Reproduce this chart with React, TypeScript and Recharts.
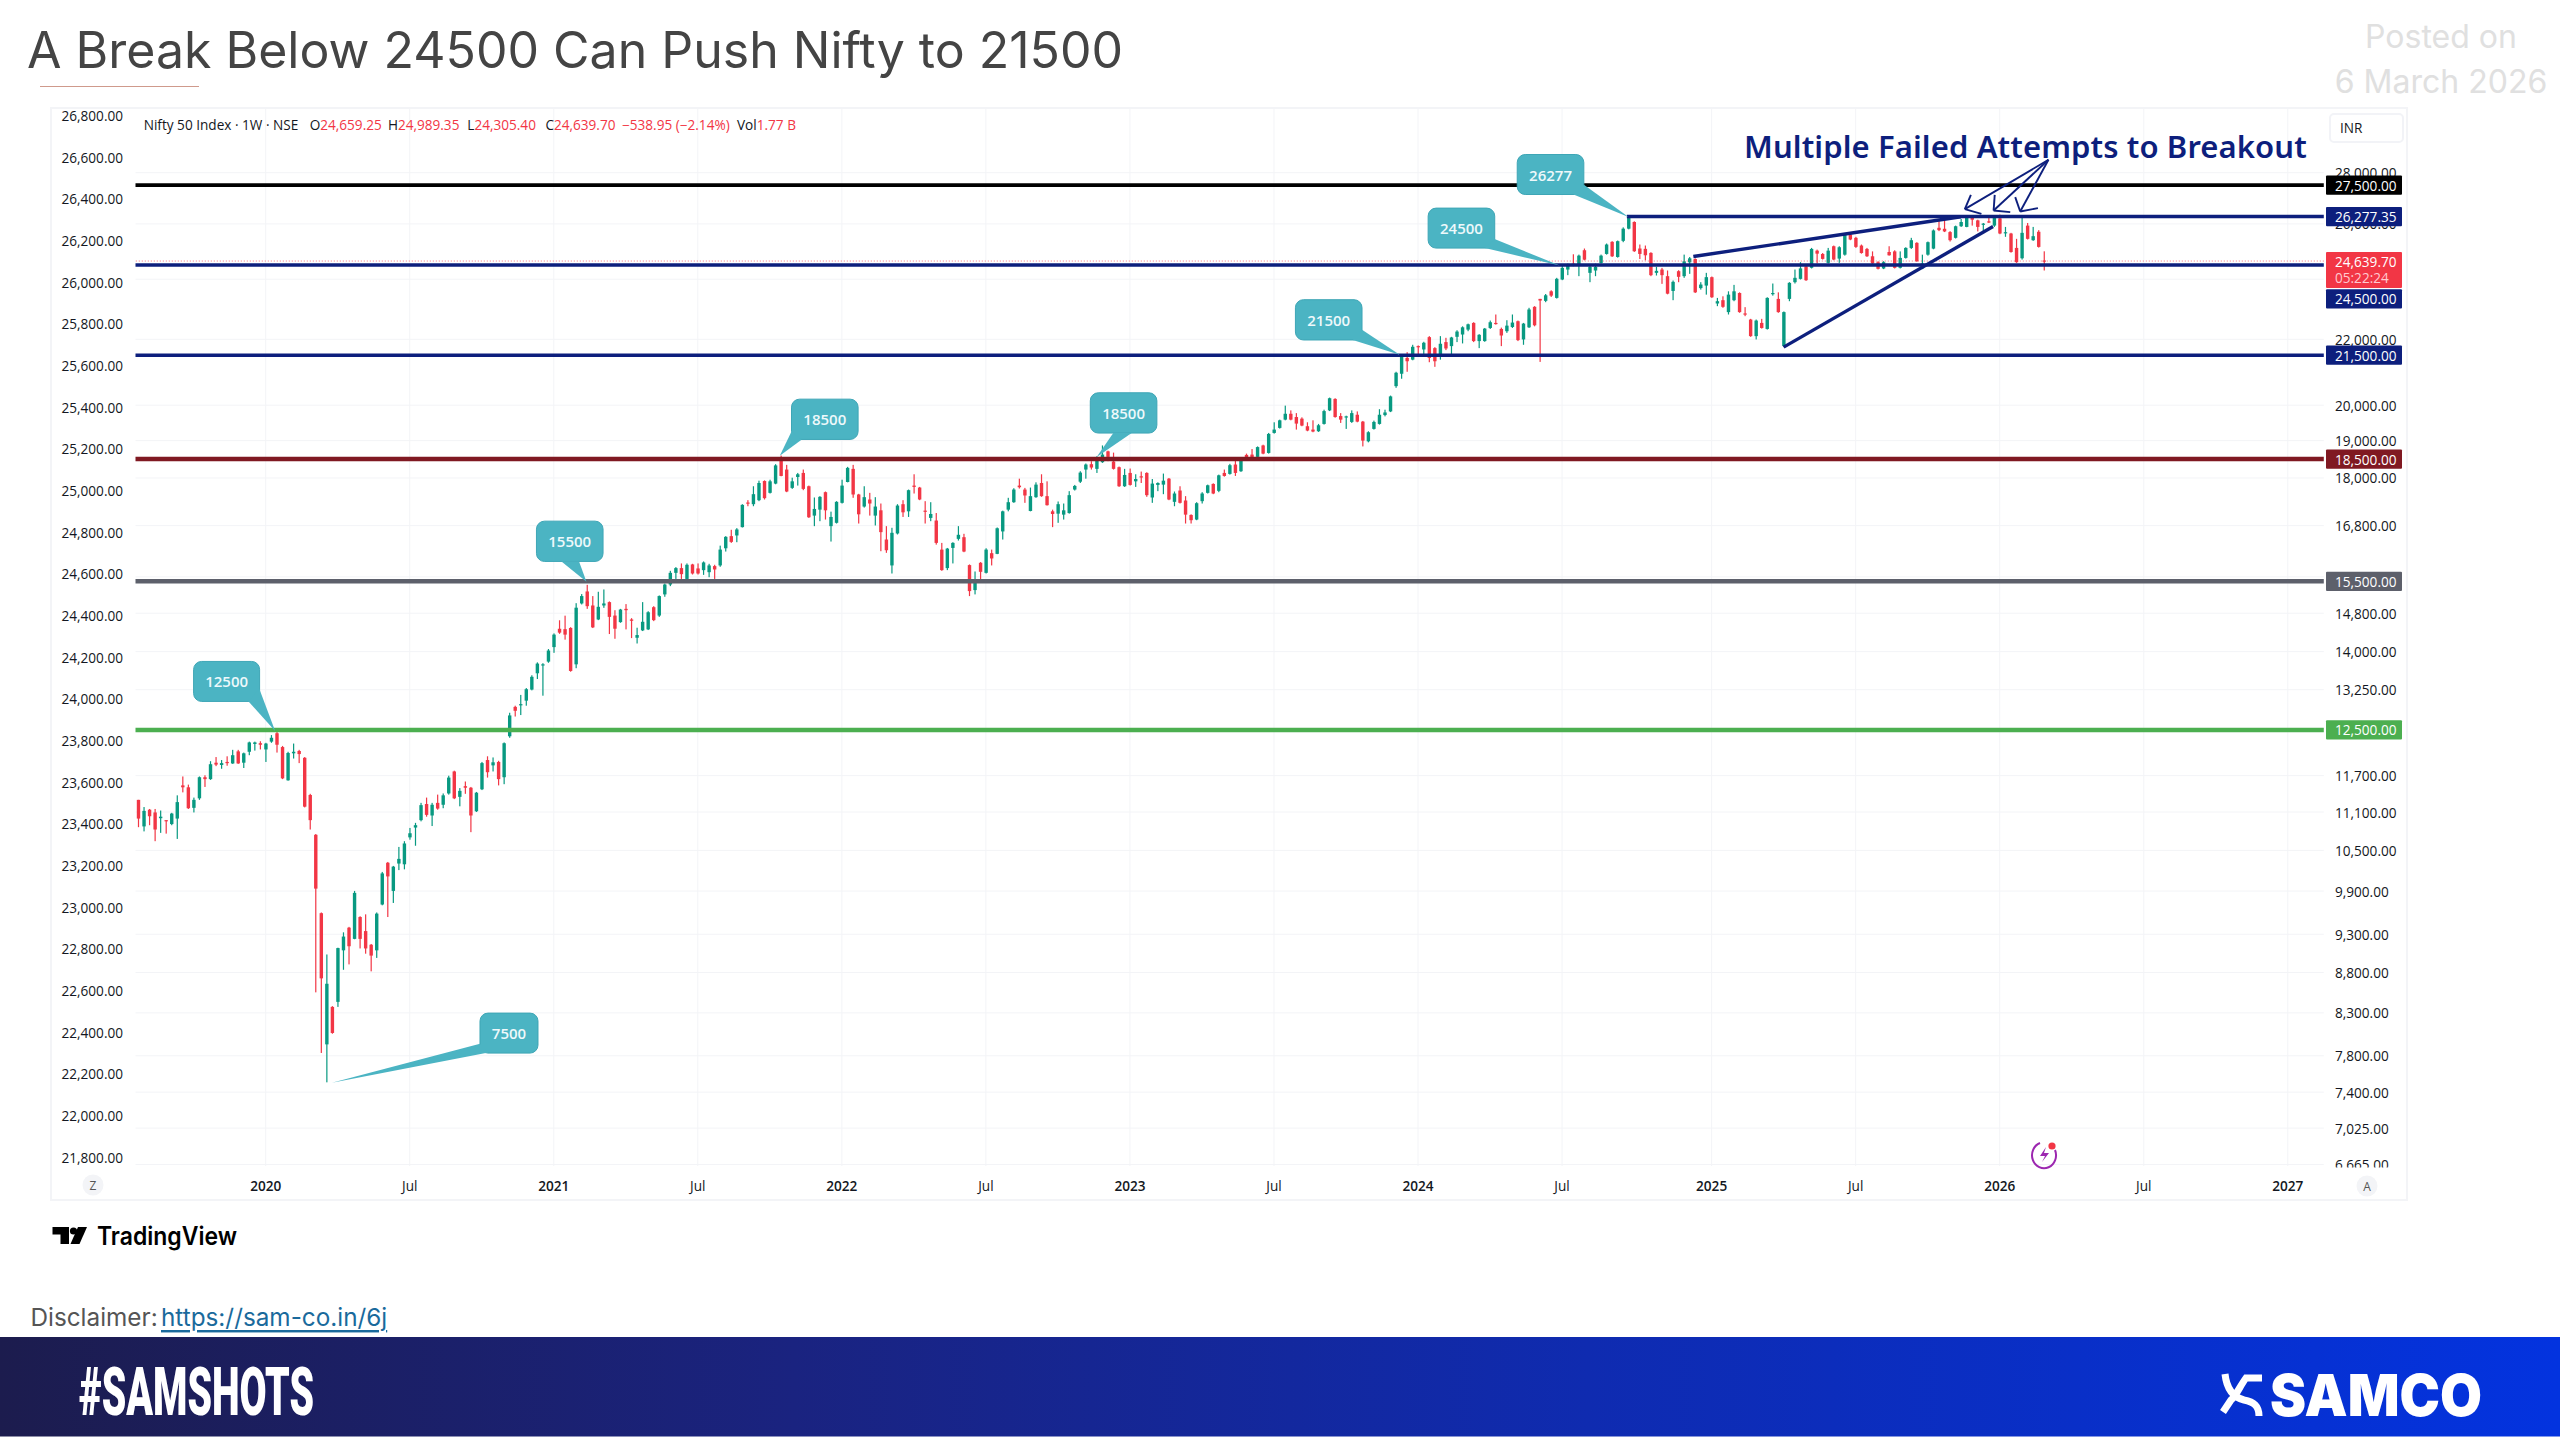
import React from "react";
import {
  Bar,
  CartesianGrid,
  ComposedChart,
  Line,
  ReferenceDot,
  ReferenceLine,
  XAxis,
  YAxis,
} from "recharts";

const OPENS = [
  11297, 10871, 11137, 11093, 11001, 10970, 10908, 10995, 11536, 11504,
  11167, 11322, 11673, 11641, 11921, 11882, 11934, 11908, 12118, 11921,
  12111, 12249, 12262, 12152, 12290, 12441, 12194, 11621, 12084, 12125,
  12006, 11377, 10740, 9588, 7930, 8372, 8433, 9086, 9389, 9238,
  9535, 9343, 9160, 9086, 9709, 10314, 9902, 10302, 10291, 10700,
  10853, 10970, 11229, 11044, 11248, 11217, 11402, 11771, 11346, 11523,
  11497, 11112, 11471, 11967, 11875, 11934, 11673, 12386, 12924, 12953,
  13041, 13252, 13568, 13730, 13799, 14092, 14471, 14463, 14488, 13745,
  15011, 15274, 14967, 14667, 14967, 15040, 14750, 14611, 14894, 14667,
  14284, 14437, 14458, 14930, 14750, 15209, 15428, 15691, 15799, 15553,
  15883, 15791, 15752, 15706, 15845, 15860, 16259, 16547, 16563, 16764,
  17372, 17330, 17431, 17921, 17617, 17854, 18487, 18221, 17744, 18026,
  18132, 17786, 17046, 17194, 17634, 16788, 16869, 17364, 17896, 18239,
  17575, 17271, 17448, 17046, 17177, 16466, 15860, 16611, 17330, 17152,
  17803, 17752, 17169, 16989, 16925, 16228, 15799, 16267, 16482, 16522,
  15868, 15304, 15921, 15691, 16144, 16128, 16660, 17194, 17380, 17803,
  17701, 17161, 17507, 17870, 17533, 17152, 17094, 17070, 17110, 17701,
  17904, 18221, 18363, 18239, 18416, 18708, 18434, 18283, 17786, 18132,
  17913, 18044, 18132, 17499, 17820, 17828, 17982, 17389, 17676, 17423,
  17062, 16949, 17406, 17617, 17845, 17668, 18132, 18106, 18354, 18177,
  18611, 18620, 18558, 18868, 18664, 19213, 19353, 19586, 19753, 19660,
  19614, 19400, 19306, 19260, 19465, 19850, 20182, 19688, 19651, 19521,
  19725, 19530, 18981, 19325, 19465, 19716, 19820, 20559, 20931, 21416,
  21363, 21785, 21680, 22070, 21722, 21468, 21912, 21785, 22080, 22154,
  22312, 22529, 21944, 21944, 22365, 22529, 22333, 22260, 22397, 22584,
  21996, 22386, 23060, 23326, 23259, 23583, 23359, 23990, 24338, 24548,
  24513, 25028, 24222, 24304, 24571, 24894, 25333, 24785, 25370, 25821,
  26072, 25090, 25078, 24931, 24222, 24338, 24106, 23595, 24280, 24106,
  24594, 24711, 23693, 23780, 24071, 23171, 23282, 22884, 23282, 23525,
  22840, 22639, 22102, 22529, 22333, 23492, 23326, 21785, 23326, 23897,
  24012, 24448, 24399, 25013, 24892, 24575, 25173, 24727, 24868, 25604,
  25481, 25198, 25075, 24810, 24599, 24376, 24964, 24986, 24399, 24751,
  25112, 25296, 24376, 24868, 25087, 25854, 25817, 25694, 25481, 25912,
  25887, 26223, 26133, 25973, 26096, 25936, 26210, 25653, 25641, 25112,
  24739, 25936, 25394, 25706, 24659,
];

const HIGHS = [
  11297, 11180, 11149, 11149, 11124, 10970, 11087, 11371, 11686, 11549,
  11334, 11686, 11706, 11947, 12019, 11967, 12032, 12145, 12145, 12097,
  12290, 12290, 12297, 12269, 12407, 12476, 12214, 12111, 12256, 12145,
  12019, 11396, 10752, 9598, 9032, 8381, 9121, 9326, 9400, 9902,
  9546, 9572, 9170, 9598, 10178, 10326, 10267, 10553, 10641, 10847,
  10927, 11248, 11334, 11248, 11383, 11402, 11699, 11784, 11491, 11601,
  11510, 11427, 11934, 12032, 12012, 11954, 12276, 12815, 12946, 13150,
  13281, 13529, 13784, 13768, 14053, 14374, 14650, 14748, 14504, 15017,
  15216, 15421, 15172, 15267, 15318, 15055, 14865, 14894, 14997, 14695,
  14493, 15040, 14843, 14952, 15186, 15450, 15737, 15822, 15906, 15906,
  15898, 15906, 15952, 15898, 15875, 16321, 16547, 16700, 16740, 17330,
  17431, 17786, 17930, 17938, 17955, 18363, 18593, 18345, 18008, 18132,
  18221, 17803, 17499, 17533, 17651, 17144, 17406, 17955, 18292, 18345,
  17592, 17786, 17617, 17507, 17347, 16788, 16748, 17330, 17431, 17701,
  18097, 17769, 17406, 17380, 17110, 16386, 16267, 16402, 16788, 16603,
  15883, 15722, 15937, 16259, 16228, 16756, 17169, 17491, 17735, 17982,
  17744, 17752, 17887, 18097, 17913, 17194, 17398, 17347, 17660, 17820,
  18177, 18381, 18443, 18576, 18868, 18726, 18673, 18301, 18239, 18248,
  18097, 18168, 18150, 17973, 17887, 18115, 18000, 17651, 17786, 17533,
  17078, 17380, 17634, 17828, 17862, 18088, 18221, 18372, 18452, 18505,
  18646, 18770, 18841, 18888, 19213, 19511, 19586, 19987, 19850, 19772,
  19651, 19511, 19567, 19465, 19870, 20221, 20202, 19772, 19698, 19850,
  19820, 19549, 19260, 19558, 19884, 19870, 20280, 20991, 21521, 21595,
  21827, 21806, 21922, 22102, 21753, 22102, 22049, 22080, 22291, 22418,
  22506, 22551, 22165, 22365, 22606, 22805, 22376, 22617, 22805, 22606,
  22529, 23027, 23082, 23326, 23492, 23618, 24048, 24478, 24548, 24882,
  24870, 25090, 24478, 24548, 24870, 25272, 25358, 25382, 25870, 26277,
  26098, 25236, 25199, 24955, 24432, 24397, 24304, 23955, 24315, 24870,
  24785, 24736, 23897, 24222, 24094, 23359, 23414, 23583, 23804, 23548,
  23049, 22662, 22639, 22662, 23381, 23851, 23548, 22906, 23897, 24338,
  24599, 24481, 25112, 25050, 24927, 25112, 25198, 25173, 25641, 25641,
  25518, 25235, 25112, 24986, 24634, 24634, 25173, 25026, 24986, 25136,
  25481, 25321, 24868, 25345, 25793, 26158, 26158, 25730, 25936, 26184,
  26260, 26262, 26158, 26035, 26262, 26270, 26352, 25887, 25666, 25444,
  26274, 26035, 25887, 25767, 24989,
];

const LOWS = [
  10859, 10793, 10890, 10641, 10770, 10758, 10890, 10676, 11420, 11149,
  11093, 11297, 11510, 11628, 11862, 11817, 11869, 11901, 11901, 11830,
  12051, 12132, 12152, 11934, 12269, 12097, 11641, 11615, 11993, 11914,
  11174, 10822, 8550, 7832, 7506, 8053, 8372, 8834, 8903, 9233,
  9111, 9042, 8814, 8987, 9698, 9535, 9731, 10205, 10216, 10664,
  10571, 10951, 11025, 10877, 11137, 11161, 11383, 11309, 11192, 11396,
  10781, 11100, 11458, 11667, 11771, 11536, 11556, 12359, 12745, 12772,
  12946, 13237, 13456, 13135, 13776, 13976, 14365, 14245, 13599, 13668,
  14989, 14894, 14486, 14653, 14916, 14361, 14263, 14597, 14458, 14277,
  14166, 14423, 14444, 14632, 14722, 15157, 15392, 15553, 15553, 15538,
  15653, 15653, 15645, 15592, 15553, 15829, 16182, 16386, 16402, 16756,
  17279, 17279, 17406, 17448, 17600, 17837, 18044, 17634, 17718, 17803,
  17685, 16989, 16788, 16909, 16949, 16418, 16852, 17347, 17887, 17491,
  16852, 17245, 17046, 16804, 16190, 16152, 15676, 16587, 17013, 17013,
  17600, 17431, 16852, 16909, 16345, 15737, 15753, 15906, 16442, 16167,
  15172, 15209, 15538, 15676, 15860, 16121, 16466, 17152, 17364, 17727,
  17364, 17152, 17491, 17516, 17296, 16764, 16869, 16949, 17094, 17676,
  17870, 17982, 18221, 18132, 18398, 18443, 18221, 17769, 17769, 17803,
  17769, 17870, 17516, 17364, 17660, 17583, 17431, 17279, 17347, 16852,
  16852, 16933, 17347, 17600, 17583, 17634, 18035, 18088, 18053, 18159,
  18487, 18523, 18540, 18629, 18646, 19194, 19334, 19567, 19567, 19306,
  19400, 19260, 19232, 19241, 19446, 19830, 19642, 19493, 19325, 19493,
  19511, 18841, 18953, 19306, 19446, 19679, 19801, 20509, 20780, 20991,
  21343, 21521, 21532, 21283, 21142, 21363, 21659, 21521, 21912, 21870,
  22260, 21912, 21722, 21922, 22333, 22473, 21785, 22207, 22365, 21944,
  21827, 22365, 22418, 21293, 23215, 23392, 23337, 23967, 24141, 24455,
  24106, 24664, 23897, 24106, 24548, 24870, 24785, 24761, 25321, 25796,
  24967, 24711, 24664, 24106, 24129, 23839, 23481, 23282, 23897, 24048,
  24187, 23525, 23641, 23470, 23359, 23082, 23027, 22805, 23248, 22862,
  22750, 22080, 21996, 22344, 22312, 23436, 22862, 21753, 23248, 23851,
  23989, 23942, 24376, 24552, 24692, 24552, 24669, 24575, 24833, 25394,
  25112, 24904, 24786, 24528, 24341, 24353, 24833, 24376, 24376, 24727,
  25075, 24610, 24353, 24833, 25063, 25730, 25694, 25345, 25456, 25887,
  25875, 25936, 25718, 25706, 26035, 25887, 25616, 25518, 24940, 24575,
  24692, 25419, 25370, 25124, 24305,
];

const CLOSES = [
  10995, 11118, 11032, 10822, 11025, 10951, 11075, 11260, 11504, 11161,
  11297, 11673, 11641, 11895, 11888, 11914, 11914, 12051, 11908, 12084,
  12276, 12276, 12235, 12256, 12359, 12235, 11654, 12090, 12111, 12071,
  11186, 10970, 9935, 8725, 8657, 8062, 9116, 9269, 9140, 9874,
  9238, 9111, 9017, 9582, 10156, 10112, 10256, 10372, 10606, 10764,
  10890, 11211, 11054, 11217, 11155, 11371, 11667, 11322, 11445, 11497,
  11044, 11414, 11914, 11758, 11928, 11641, 12262, 12765, 12851, 12975,
  13259, 13499, 13760, 13745, 14022, 14349, 14390, 14349, 13614, 14919,
  15172, 14952, 14500, 14938, 15011, 14722, 14472, 14879, 14865, 14639,
  14340, 14618, 14821, 14653, 15172, 15428, 15691, 15799, 15661, 15875,
  15676, 15676, 15929, 15860, 15768, 16228, 16530, 16410, 16708, 17313,
  17347, 17583, 17870, 17482, 17913, 18331, 18053, 17651, 17913, 18097,
  17718, 17005, 17211, 17515, 17177, 17013, 17389, 17803, 18265, 17575,
  17078, 17507, 17347, 17271, 16643, 16213, 16627, 17296, 17127, 17685,
  17769, 17448, 17144, 17086, 16386, 15753, 16251, 16386, 16579, 16182,
  15282, 15494, 15714, 16228, 16021, 16737, 17152, 17380, 17701, 17761,
  17550, 17533, 17828, 17533, 17305, 17086, 17330, 17177, 17558, 17794,
  18141, 18354, 18274, 18487, 18620, 18558, 18239, 17786, 18079, 17820,
  17973, 18026, 17558, 17854, 17870, 17930, 17448, 17600, 17364, 17070,
  16933, 17355, 17600, 17811, 17600, 18070, 18053, 18336, 18132, 18487,
  18523, 18540, 18823, 18646, 19185, 19306, 19567, 19753, 19586, 19474,
  19418, 19279, 19251, 19427, 19830, 20202, 19660, 19586, 19679, 19772,
  19530, 19000, 19232, 19521, 19725, 19791, 20256, 20961, 21468, 21313,
  21764, 21753, 21891, 21416, 21313, 21859, 21711, 22059, 22249, 22386,
  22484, 21944, 22144, 22344, 22551, 22506, 22122, 22440, 22540, 21975,
  22506, 22971, 22451, 23270, 23448, 23436, 24013, 24397, 24490, 24478,
  24833, 24687, 24432, 24432, 24833, 25236, 24809, 25358, 25821, 26226,
  24992, 24894, 24846, 24141, 24292, 24141, 23503, 23909, 24083, 24629,
  24736, 23548, 23815, 24071, 23381, 23248, 23060, 23470, 23583, 22884,
  22805, 22102, 22606, 22365, 23359, 23525, 22884, 22884, 23874, 24048,
  24378, 23965, 25075, 24904, 24716, 25013, 24692, 25136, 25604, 25419,
  25149, 24927, 24810, 24552, 24364, 24599, 24845, 24399, 24751, 25112,
  25394, 24634, 24552, 25321, 25755, 25767, 25718, 25394, 25912, 26072,
  26223, 26158, 25887, 26010, 26059, 26223, 25641, 25690, 24964, 24599,
  25666, 25444, 25542, 25149, 24640,
];

// weekly bars plus the empty space TradingView leaves on the right
const WEEK_COUNT = 395;
const TICK_WEEKS = [23, 49, 75, 101, 127, 153, 179, 205, 231, 257, 284, 310, 336, 362, 388];
const TICK_LABELS = ["2020", "Jul", "2021", "Jul", "2022", "Jul", "2023", "Jul", "2024", "Jul", "2025", "Jul", "2026", "Jul", "2027"];

const LEFT_TICKS = [
  26800, 26600, 26400, 26200, 26000, 25800, 25600, 25400, 25200, 25000, 24800, 24600, 24400,
  24200, 24000, 23800, 23600, 23400, 23200, 23000, 22800, 22600, 22400, 22200, 22000, 21800,
];
const PRICE_TICKS = [
  28000, 26000, 24000, 22000, 20000, 19000, 18000, 16800, 15600, 14800, 14000, 13250,
  11700, 11100, 10500, 9900, 9300, 8800, 8300, 7800, 7400, 7025, 6665,
];
const LEVELS = [27500, 26277.35, 24500, 21500, 18500, 15500, 12500];
const LEVEL_COLORS = ["#000000", "#0d1f7d", "#0d1f7d", "#0d1f7d", "#801922", "#5d606b", "#4caf50"];
const LAST_PRICE = 24639.7;

// week, price, week, price
const TREND_LINES = [
  [280.7, 24802, 329, 26269],
  [297, 21753, 334.8, 25903],
];
const ARROW_LINES = [
  [344.8, 28528, 329.7, 26563],
  [329.7, 26563, 330.8, 27118],
  [329.7, 26563, 332.7, 26382],
  [344.8, 28528, 334.9, 26510],
  [334.9, 26510, 335.1, 27118],
  [334.9, 26510, 337.9, 26448],
  [344.8, 28528, 339.7, 26471],
  [339.7, 26471, 338.8, 27029],
  [339.7, 26471, 342.9, 26602],
];

const CALLOUT_LABELS = ["12500", "7500", "15500", "18500", "18500", "21500", "24500", "26277"];
const CALLOUT_WEEKS = [24.7, 34.95, 80.9, 115.8, 173, 227.7, 256.6, 269];
const CALLOUT_PRICES = [12480, 7501, 15490, 18586, 18553, 21516, 24481, 26257];
// bubble box and tail base, relative to the tail tip
const CALLOUT_SHAPES = [
  { dx: -81.5, dy: -69.6, w: 66, h: 40, tail: [-26.8, -29.8, -15.7, -42] },
  { dx: 148.1, dy: -69.7, w: 58, h: 40, tail: [148.1, -39, 156.5, -30.3] },
  { dx: -50, dy: -60.6, w: 66.6, h: 40.3, tail: [-25, -20.3, -7.4, -20.3] },
  { dx: 11.7, dy: -56.7, w: 66.6, h: 40.3, tail: [11.7, -24.3, 21.7, -16] },
  { dx: -6.4, dy: -64.3, w: 66.6, h: 40.3, tail: [16.6, -24, 35, -24] },
  { dx: -104.3, dy: -55, w: 66.6, h: 40.3, tail: [-47, -14.7, -37.7, -25] },
  { dx: -131.7, dy: -57.4, w: 66.6, h: 40, tail: [-75, -17.4, -65.3, -26.4] },
  { dx: -111.3, dy: -62.6, w: 66.6, h: 40, tail: [-55, -22.6, -44.6, -32.3] },
];

const FONT = '"Open Sans", sans-serif';
const NAVY = "#0d1f7d";
const UP = "#089981";
const DOWN = "#f23645";
const GRID = "#f3f4f7";

const rows = Array.from({ length: WEEK_COUNT }, (_, week) =>
  week < OPENS.length
    ? { week, open: OPENS[week], close: CLOSES[week], high: HIGHS[week], low: LOWS[week], range: [LOWS[week], HIGHS[week]] }
    : { week },
);

const money = (v: number) =>
  v.toLocaleString("en-US", { minimumFractionDigits: 2, maximumFractionDigits: 2 });

function Candle(props: any) {
  const { x, y, width, height, payload } = props;
  if (!payload || payload.open === undefined || !Number.isFinite(y)) return <g />;
  const { open, close, high, low } = payload;
  const top = Math.min(y, y + height);
  const full = Math.abs(height);
  const span = Math.log(high / low) || 1;
  // log axis, so open and close sit on a log scale between high and low
  const place = (p: number) => top + (Math.log(high / p) / span) * full;
  const cx = x + width / 2;
  const bodyTop = place(Math.max(open, close));
  const bodyBottom = place(Math.min(open, close));
  const color = close >= open ? UP : DOWN;
  return (
    <g>
      <rect x={cx - 0.6} y={top} width={1.2} height={full} fill={color} />
      <rect x={cx - 1.7} y={bodyTop} width={3.4} height={Math.max(bodyBottom - bodyTop, 1.2)} fill={color} />
    </g>
  );
}

function LeftTick(props: any) {
  return (
    <text x={123} y={props.y} textAnchor="end" dominantBaseline="central" fontFamily={FONT} fontSize={13.6} fill="#131722">
      {money(props.payload.value)}
    </text>
  );
}

function PriceTick(props: any) {
  const value = props.payload.value;
  const y = props.y;
  const text = { x: 2335, fontFamily: FONT, fontSize: 13.6, dominantBaseline: "central" as const };
  const level = LEVELS.indexOf(value);
  if (value === LAST_PRICE) {
    return (
      <g>
        <rect x={2326} y={y - 9} width={76} height={36} rx={1} fill={DOWN} />
        <text {...text} y={y} fill="#fff">{money(value)}</text>
        <text {...text} y={y + 16} fill="#ffc9cf">05:22:24</text>
      </g>
    );
  }
  if (level >= 0) {
    // the 24,500 tag gets pushed down under the last price tag
    const shift = value === 24500 ? 34 : 0;
    return (
      <g>
        <rect x={2326} y={y + shift - 9.6} width={76} height={19.2} rx={1} fill={LEVEL_COLORS[level]} />
        <text {...text} y={y + shift} fill="#fff">{money(value)}</text>
      </g>
    );
  }
  return (
    <g>
      <text {...text} y={y} fill="#131722">{money(value)}</text>
      {value === 6665 && <rect x={2330} y={1167.5} width={70} height={10} fill="#fff" />}
    </g>
  );
}

function WeekTick(props: any) {
  const label = TICK_LABELS[TICK_WEEKS.indexOf(props.payload.value)];
  return (
    <text x={props.x} y={1185} textAnchor="middle" dominantBaseline="central" fontFamily={FONT} fontSize={13.6} fontWeight={label === "Jul" ? 400 : 600} fill="#131722">
      {label}
    </text>
  );
}

function Callout(props: any) {
  const { cx, cy, label, shape } = props;
  const t = shape.tail;
  return (
    <g>
      <rect x={cx + shape.dx} y={cy + shape.dy} width={shape.w} height={shape.h} rx={8} fill="#4bb4c3" stroke="#3ea6b6" strokeWidth={1} />
      <polygon points={`${cx},${cy} ${cx + t[0]},${cy + t[1]} ${cx + t[2]},${cy + t[3]}`} fill="#4bb4c3" />
      <text x={cx + shape.dx + shape.w / 2} y={cy + shape.dy + shape.h / 2} textAnchor="middle" dominantBaseline="central" fontFamily={FONT} fontSize={15} fontWeight={600} fill="#eef9fb">
        {label}
      </text>
    </g>
  );
}

const abs = (left: number, top: number, extra: React.CSSProperties = {}): React.CSSProperties => ({
  position: "absolute",
  left,
  top,
  whiteSpace: "nowrap",
  ...extra,
});

function Legend() {
  const base = { fontFamily: FONT, fontSize: 13.6, lineHeight: "18px", color: "#131722" };
  const parts: [number, string, string][] = [
    [309.7, "O", "24,659.25"],
    [387.9, "H", "24,989.35"],
    [467.3, "L", "24,305.40"],
    [545.4, "C", "24,639.70"],
    [622, "", "\u2212538.95 (\u22122.14%)"],
    [737, "Vol", "1.77 B"],
  ];
  return (
    <>
      <div style={abs(143.7, 116, base)}>Nifty 50 Index · 1W · NSE</div>
      {parts.map(([x, key, value]) => (
        <div key={x} style={abs(x, 116, base)}>
          {key}
          <span style={{ color: DOWN }}>{value}</span>
        </div>
      ))}
    </>
  );
}

export default function App() {
  return (
    <div style={{ position: "absolute", left: 0, top: 0, width: 2560, height: 1440, background: "#fff", overflow: "hidden" }}>
      <div style={abs(27, 20, { fontFamily: "Inter, sans-serif", fontSize: 50, fontWeight: 400, color: "#444", lineHeight: "60px" })}>
        A Break Below 24500 Can Push Nifty to 21500
      </div>
      <div style={abs(39.5, 85.5, { width: 159, height: 1, background: "#cf9a8c" })} />
      <div style={abs(2332, 14, { width: 218, textAlign: "center", fontFamily: "Inter, sans-serif", fontSize: 32, lineHeight: "45px", color: "#e0e0e0" })}>
        Posted on
        <br />6 March 2026
      </div>

      <div style={abs(50, 107, { width: 2358, height: 1094, border: "2px solid #f3f4f7", boxSizing: "border-box" })} />

      <div style={abs(0, 0)}>
        <ComposedChart
          width={2560}
          height={1440}
          data={rows}
          barCategoryGap={0}
          margin={{ top: 109, right: 152.2, bottom: 238, left: 50 }}
        >
          <CartesianGrid stroke={GRID} yAxisId="price" verticalValues={TICK_WEEKS} horizontalValues={[...PRICE_TICKS]} />
          <XAxis
            dataKey="week"
            type="category"
            ticks={TICK_WEEKS}
            interval={0}
            height={36}
            tick={WeekTick}
            tickLine={false}
            axisLine={false}
          />
          <XAxis xAxisId="t" type="number" dataKey="week" domain={[-0.5, WEEK_COUNT - 0.5]} hide />
          <YAxis
            yAxisId="left"
            orientation="left"
            type="number"
            domain={[21757, 26832]}
            allowDataOverflow
            ticks={LEFT_TICKS}
            interval={0}
            width={85.5}
            tick={LeftTick}
            tickLine={false}
            axisLine={false}
          />
          <YAxis
            yAxisId="price"
            orientation="right"
            type="number"
            scale="log"
            domain={[6650, 30704]}
            allowDataOverflow
            ticks={[...PRICE_TICKS, ...LEVELS, LAST_PRICE]}
            interval={0}
            width={84}
            tick={PriceTick}
            tickLine={false}
            axisLine={false}
          />

          {/* nothing to see here, the left scale just needs a series bound to it */}
          <Line yAxisId="left" dataKey="close" stroke="none" dot={false} activeDot={false} isAnimationActive={false} />
          <Bar yAxisId="price" dataKey="range" isAnimationActive={false} shape={Candle} />

          <ReferenceLine yAxisId="price" y={LAST_PRICE} stroke={DOWN} strokeWidth={1} strokeDasharray="1 2" strokeOpacity={0.7} />
          <ReferenceLine yAxisId="price" y={LEVELS[0]} stroke={LEVEL_COLORS[0]} strokeWidth={3.8} />
          <ReferenceLine
            yAxisId="price"
            xAxisId="t"
            segment={[{ x: 268.7, y: LEVELS[1] }, { x: WEEK_COUNT - 0.5, y: LEVELS[1] }]}
            stroke={LEVEL_COLORS[1]}
            strokeWidth={3.6}
          />
          {LEVELS.slice(2).map((level, i) => (
            <ReferenceLine key={level} yAxisId="price" y={level} stroke={LEVEL_COLORS[i + 2]} strokeWidth={i < 2 ? 3.6 : 4.4} />
          ))}

          {TREND_LINES.map(([w1, p1, w2, p2]) => (
            <ReferenceLine
              key={w1}
              yAxisId="price"
              xAxisId="t"
              segment={[{ x: w1, y: p1 }, { x: w2, y: p2 }]}
              stroke={NAVY}
              strokeWidth={3.4}
            />
          ))}
          {ARROW_LINES.map(([w1, p1, w2, p2], i) => (
            <ReferenceLine
              key={i}
              yAxisId="price"
              xAxisId="t"
              segment={[{ x: w1, y: p1 }, { x: w2, y: p2 }]}
              stroke={NAVY}
              strokeWidth={1.9}
            />
          ))}

          {CALLOUT_LABELS.map((label, i) => (
            <ReferenceDot
              key={i}
              yAxisId="price"
              xAxisId="t"
              x={CALLOUT_WEEKS[i]}
              y={CALLOUT_PRICES[i]}
              r={1}
              ifOverflow="visible"
              shape={(p: any) => <Callout {...p} label={label} shape={CALLOUT_SHAPES[i]} />}
            />
          ))}
        </ComposedChart>
      </div>

      <Legend />

      <div style={abs(1744, 123.5, { fontFamily: '"Noto Sans", sans-serif', fontSize: 31, fontWeight: 600, color: NAVY, lineHeight: "44px", letterSpacing: 0.1 })}>
        Multiple Failed Attempts to Breakout
      </div>

      <div style={abs(2329, 113, { width: 75, height: 30, border: "2px solid #f2f3f7", borderRadius: 5, boxSizing: "border-box" })} />
      <div style={abs(2340, 119, { fontFamily: FONT, fontSize: 13.6, lineHeight: "18px", color: "#131722" })}>INR</div>

      <svg style={abs(0, 0)} width={2560} height={1440}>
        <defs>
          <linearGradient id="band" x1="0" y1="0" x2="1" y2="0">
            <stop offset="0%" stopColor="#1c1c4e" />
            <stop offset="31%" stopColor="#1a2380" />
            <stop offset="62%" stopColor="#0f2bb0" />
            <stop offset="100%" stopColor="#0333df" />
          </linearGradient>
        </defs>

        <circle cx={93} cy={1185} r={10.5} fill="#f3f4f7" />
        <text x={93} y={1185} textAnchor="middle" dominantBaseline="central" fontFamily={FONT} fontSize={12} fill="#555">Z</text>
        <circle cx={2367} cy={1186} r={10.5} fill="#f3f4f7" />
        <text x={2367} y={1186} textAnchor="middle" dominantBaseline="central" fontFamily={FONT} fontSize={12} fill="#555">A</text>

        <g fill="none">
          <path d="M2040 1143 A12 13 0 1 0 2055 1150" stroke="#9c27b0" strokeWidth={2} />
          <path d="M2046 1147 L2040 1156 L2045 1156 L2042 1162 L2049 1153 L2044 1153 Z" fill="#9c27b0" />
        </g>
        <circle cx={2052} cy={1146} r={3.6} fill="#f23645" />

        {/* TradingView mark */}
        <path d="M52.5 1227 H69 V1244 H60.5 V1234.5 H52.5 Z" fill="#000" />
        <circle cx={73.5} cy={1231} r={3.6} fill="#000" />
        <path d="M78 1227 H87 L79.5 1244 H70.5 Z" fill="#000" />
        <text x={97} y={1236} dominantBaseline="central" fontFamily="Inter, sans-serif" fontWeight={600} fontSize={25} textLength={140} lengthAdjust="spacingAndGlyphs" fill="#000">
          TradingView
        </text>

        <text x={30.5} y={1317} dominantBaseline="central" fontFamily="Inter, sans-serif" fontSize={24.3} fill="#555">Disclaimer:</text>
        <text x={161} y={1317} dominantBaseline="central" fontFamily="Inter, sans-serif" fontSize={24.3} textDecoration="underline" fill="#1a6a9c">
          https://sam-co.in/6j
        </text>

        <rect x={0} y={1337} width={2560} height={99.5} fill="url(#band)" />
        <text x={79} y={1415} fontFamily="Roboto, sans-serif" fontWeight={900} fontSize={66} textLength={235} lengthAdjust="spacingAndGlyphs" fill="#fff">
          #SAMSHOTS
        </text>
        <text x={2270} y={1416} fontFamily="Inter, sans-serif" fontWeight={900} fontSize={58} textLength={212} lengthAdjust="spacingAndGlyphs" fill="#fff">
          SAMCO
        </text>
        <g fill="none" stroke="#fff" strokeWidth={7}>
          <path d="M2225 1374 C2227 1392 2236 1398 2244 1400 C2254 1402 2259 1406 2259 1416" />
          <path d="M2262 1378 H2246 C2240 1386 2236 1396 2231 1400 L2223 1412" />
        </g>
      </svg>
    </div>
  );
}
